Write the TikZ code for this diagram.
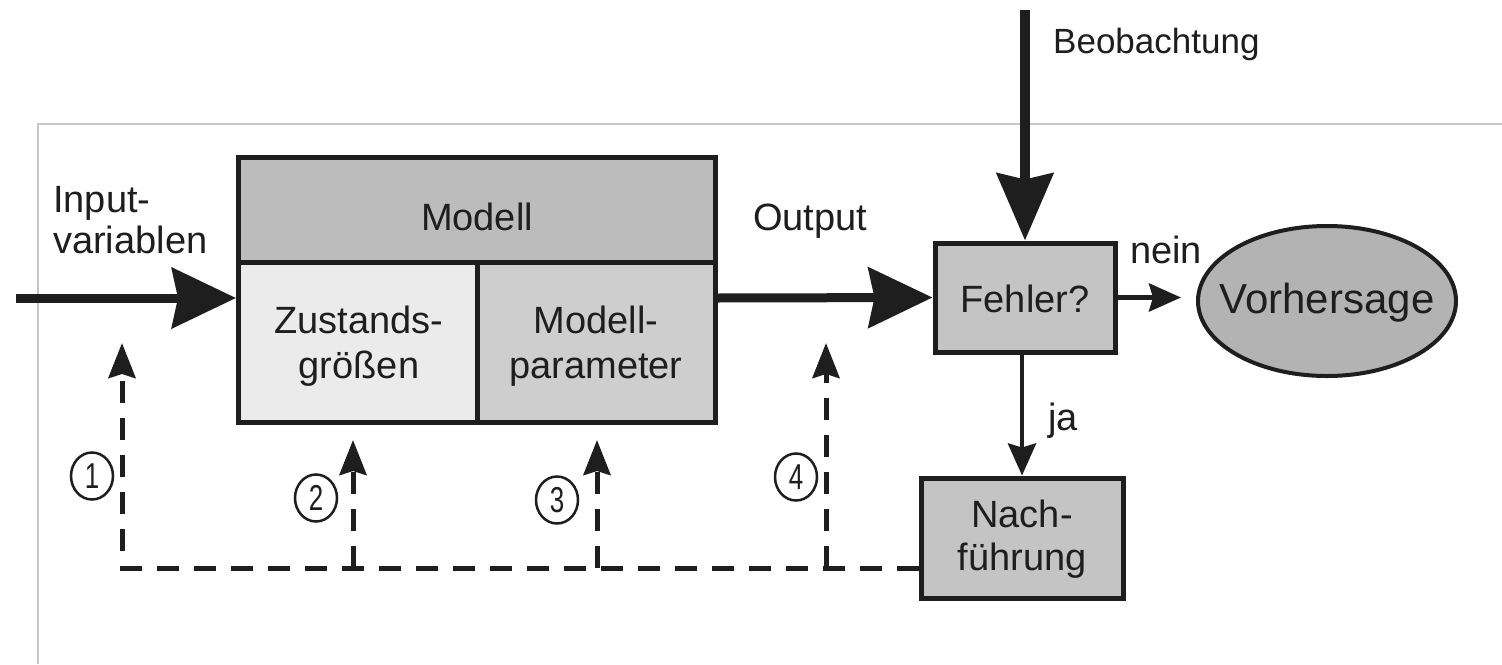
\documentclass[tikz,border=0pt]{standalone}
\usepackage{fontspec}
\setmainfont{Liberation Sans}
\usetikzlibrary{arrows.meta,shapes.geometric}
\definecolor{ink}{HTML}{1E1E1E}
\definecolor{framecol}{HTML}{C8C8C8}
\definecolor{headgray}{HTML}{BCBCBC}
\definecolor{lightgray}{HTML}{EBEBEB}
\definecolor{midgray}{HTML}{CECECE}
\definecolor{boxgray}{HTML}{C4C4C4}
\definecolor{ellgray}{HTML}{B3B3B3}
\newcommand{\narrowdigit}[1]{\scalebox{0.72}[1]{#1}}
\tikzset{
  box/.style={draw=ink, line width=5pt, rectangle, inner sep=0pt, text=ink},
  lbl/.style={text=ink, inner sep=0pt, font=\fontsize{38}{42}\selectfont},
  circnum/.style={draw=ink, text=ink, line width=2.5pt, ellipse, inner sep=0pt,
     minimum width=42pt, minimum height=47pt, font=\fontsize{36}{36}\selectfont},
  bigarrow/.style={draw=ink, line width=9pt, -{Stealth[length=64pt,width=60pt,inset=6pt]}},
  obsarrow/.style={draw=ink, line width=10pt, -{Stealth[length=67pt,width=56pt,inset=6pt]}},
  smallarrow/.style={draw=ink, line width=4.5pt, -{Stealth[length=32pt,width=28pt,inset=4pt]}},
  dasharrow/.style={draw=ink, line width=5pt, dash pattern=on 22pt off 15pt, -{Stealth[length=35pt,width=27pt,inset=4pt]}}
}
\begin{document}
\begin{tikzpicture}[x=1pt,y=-1pt]
\useasboundingbox (0,0) rectangle (1502,664);
\fill[white] (0,0) rectangle (1502,664);
% frame
\draw[framecol, line width=1.5pt] (38,664) -- (38,124) -- (1502,124);

% model box
\node[box, fill=headgray, minimum width=477pt, minimum height=105pt] (modell) at (476.5,209.5) {};
\node[box, fill=lightgray, minimum width=239pt, minimum height=160pt] (zust) at (358,342) {};
\node[box, fill=midgray, minimum width=238pt, minimum height=160pt] (param) at (596,342) {};
\node[lbl, anchor=base] (tmodell) at (477,230) {Modell};
\node[lbl, anchor=base, align=center, font=\fontsize{38}{45}\selectfont] (tzust) at (359,378) {Zustands-\\größen};
\node[lbl, anchor=base, align=center, font=\fontsize{38}{45}\selectfont] (tparam) at (596,378) {Modell-\\parameter};

% Fehler, Nachfuehrung, Vorhersage
\node[box, fill=boxgray, minimum width=180pt, minimum height=109pt] (fehler) at (1025,297.5) {};
\node[lbl, anchor=base] (tfehler) at (1025,312) {Fehler?};
\node[box, fill=boxgray, minimum width=202pt, minimum height=120pt] (nach) at (1022,538) {};
\node[lbl, anchor=base, align=center, font=\fontsize{38}{43}\selectfont] (tnach) at (1022,570) {Nach-\\führung};
\node[draw=ink, line width=4pt, ellipse, fill=ellgray, minimum width=258pt, minimum height=150pt, inner sep=0pt] (vorh) at (1327,301) {};
\node[lbl, anchor=base, font=\fontsize{42}{46}\selectfont] (tvorh) at (1327,313) {Vorhersage};

% labels
\node[lbl, anchor=base west, align=left, font=\fontsize{38}{41}\selectfont] (input) at (53,253) {Input-\\variablen};
\node[lbl, anchor=base west] (output) at (753,230) {Output};
\node[lbl, anchor=base west] (nein) at (1130,263) {nein};
\node[lbl, anchor=base west] (ja) at (1048,430) {ja};
\node[lbl, anchor=base west, font=\fontsize{35}{40}\selectfont] (beob) at (1053,53) {Beobachtung};

% main arrows
\coordinate (in) at (16,298);
\draw[bigarrow] (in) -- (zust.west |- in);
\draw[bigarrow] (param.east |- in) -- (fehler.west);
\coordinate (obs) at (1025,10);
\draw[obsarrow] (obs) -- (fehler.north);
\draw[smallarrow, shorten >=15pt] (fehler.east) -- (vorh.west |- fehler.east);
\draw[smallarrow] (fehler.south -| nach.north) -- (nach.north);

% dashed feedback
\coordinate (d1) at (122,568);
\coordinate (d2) at (353,568);
\coordinate (d3) at (597,568);
\coordinate (d4) at (826,568);
\coordinate (t1) at (122,343);
\coordinate (t2) at (353,440);
\coordinate (t3) at (597,440);
\coordinate (t4) at (826,343);
\draw[dasharrow] (nach.west |- d1) -- (d1) -- (t1);
\draw[dasharrow] (d2) -- (t2);
\draw[dasharrow] (d3) -- (t3);
\draw[dasharrow] (d4) -- (t4);

% circled numbers
\node[circnum] (n1) at (92,476) {\narrowdigit{1}};
\node[circnum] (n2) at (316,498) {\narrowdigit{2}};
\node[circnum] (n3) at (557,500) {\narrowdigit{3}};
\node[circnum] (n4) at (796,477) {\narrowdigit{4}};
\end{tikzpicture}
\end{document}
